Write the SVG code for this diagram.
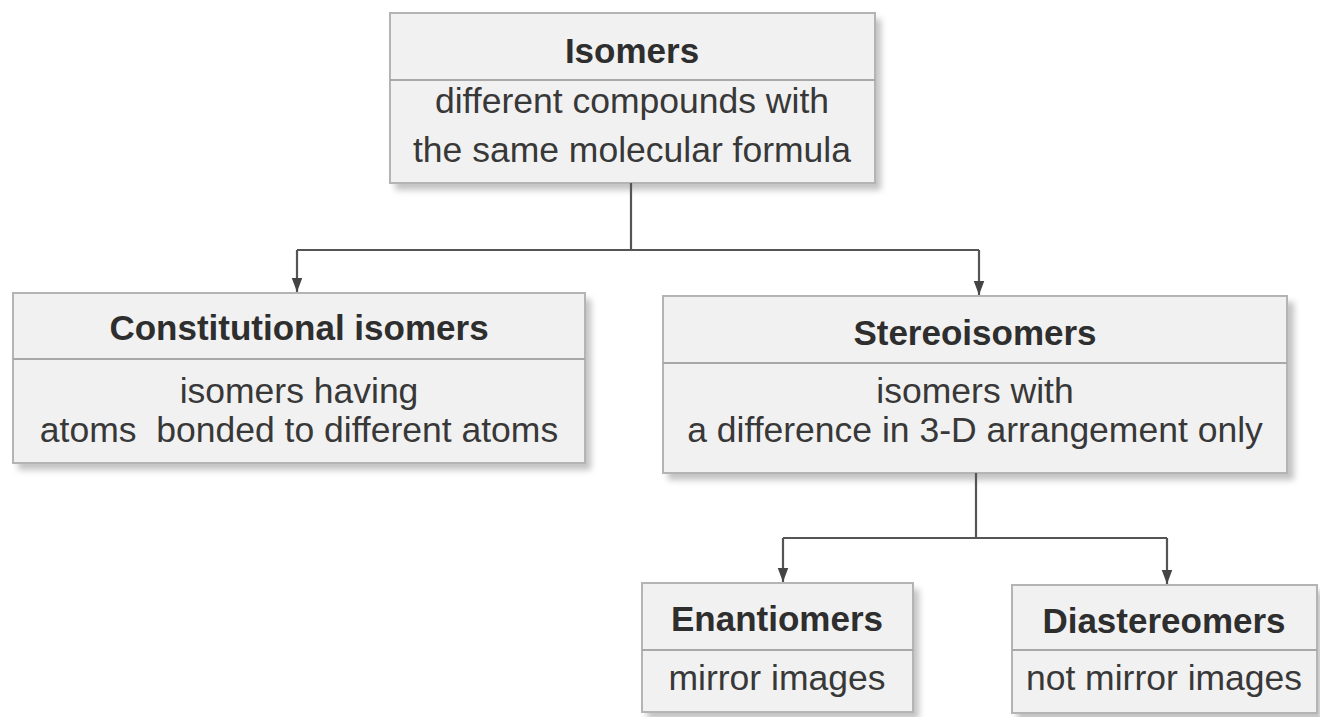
<svg xmlns="http://www.w3.org/2000/svg" width="1320" height="717" viewBox="0 0 1320 717">
<defs>
<filter id="sh" x="-10%" y="-10%" width="120%" height="130%">
<feGaussianBlur stdDeviation="3"/>
</filter>
<marker id="arr" markerWidth="12" markerHeight="14" refX="5" refY="12" orient="0" markerUnits="userSpaceOnUse" viewBox="0 0 10 12">
<path d="M0.5,0 L9.5,0 L5,12 Z" fill="#444"/>
</marker>
</defs>
<style>
.box{fill:#f1f1f1;stroke:#b4b4b4;stroke-width:2}
.shadow{fill:#9a9a9a;opacity:0.6}
.sep{stroke:#a8a8a8;stroke-width:2}
.h{font-family:"Liberation Sans",Arial,sans-serif;font-weight:bold;font-size:35px;fill:#2e2e2e;text-anchor:middle}
.b{font-family:"Liberation Sans",Arial,sans-serif;font-size:35.5px;fill:#383838;text-anchor:middle}
.c{fill:none;stroke:#555;stroke-width:2.2}
</style>
<rect width="1320" height="717" fill="#ffffff"/>

<g id="isomers">
<rect class="shadow" x="395" y="19" width="486" height="171" filter="url(#sh)"/>
<rect class="box" x="390" y="13" width="485" height="170"/>
<line class="sep" x1="390" y1="80" x2="875" y2="80"/>
<text class="h" x="632" y="63">Isomers</text>
<text class="b" x="632" y="113">different compounds with</text>
<text class="b" x="632" y="162">the same molecular formula</text>
</g>

<g id="constitutional">
<rect class="shadow" x="18" y="299" width="573" height="171" filter="url(#sh)"/>
<rect class="box" x="13" y="293" width="572" height="170"/>
<line class="sep" x1="13" y1="359" x2="585" y2="359"/>
<text class="h" x="299" y="340">Constitutional isomers</text>
<text class="b" x="299" y="403">isomers having</text>
<text class="b" x="299" y="442" xml:space="preserve">atoms  bonded to different atoms</text>
</g>

<g id="stereoisomers">
<rect class="shadow" x="668" y="302" width="626" height="178" filter="url(#sh)"/>
<rect class="box" x="663" y="296" width="624" height="177"/>
<line class="sep" x1="663" y1="363" x2="1287" y2="363"/>
<text class="h" x="975" y="345">Stereoisomers</text>
<text class="b" x="975" y="403">isomers with</text>
<text class="b" x="975" y="442">a difference in 3-D arrangement only</text>
</g>

<g id="enantiomers">
<rect class="shadow" x="647" y="589" width="272" height="130" filter="url(#sh)"/>
<rect class="box" x="642" y="583" width="271" height="129"/>
<line class="sep" x1="642" y1="650" x2="913" y2="650"/>
<text class="h" x="777" y="631">Enantiomers</text>
<text class="b" x="777" y="690">mirror images</text>
</g>

<g id="diastereomers">
<rect class="shadow" x="1017" y="591" width="305" height="130" filter="url(#sh)"/>
<rect class="box" x="1012" y="585" width="305" height="128"/>
<line class="sep" x1="1012" y1="650" x2="1317" y2="650"/>
<text class="h" x="1164" y="633">Diastereomers</text>
<text class="b" x="1164" y="690">not mirror images</text>
</g>

<g id="connectors">
<line class="c" x1="631" y1="183" x2="631" y2="250"/>
<polyline class="c" points="297,250 979,250"/>
<line class="c" x1="297" y1="250" x2="297" y2="292" marker-end="url(#arr)"/>
<line class="c" x1="979" y1="250" x2="979" y2="295" marker-end="url(#arr)"/>
<line class="c" x1="976" y1="473" x2="976" y2="538"/>
<polyline class="c" points="783,538 1167,538"/>
<line class="c" x1="783" y1="538" x2="783" y2="582" marker-end="url(#arr)"/>
<line class="c" x1="1167" y1="538" x2="1167" y2="584" marker-end="url(#arr)"/>
</g>
</svg>
